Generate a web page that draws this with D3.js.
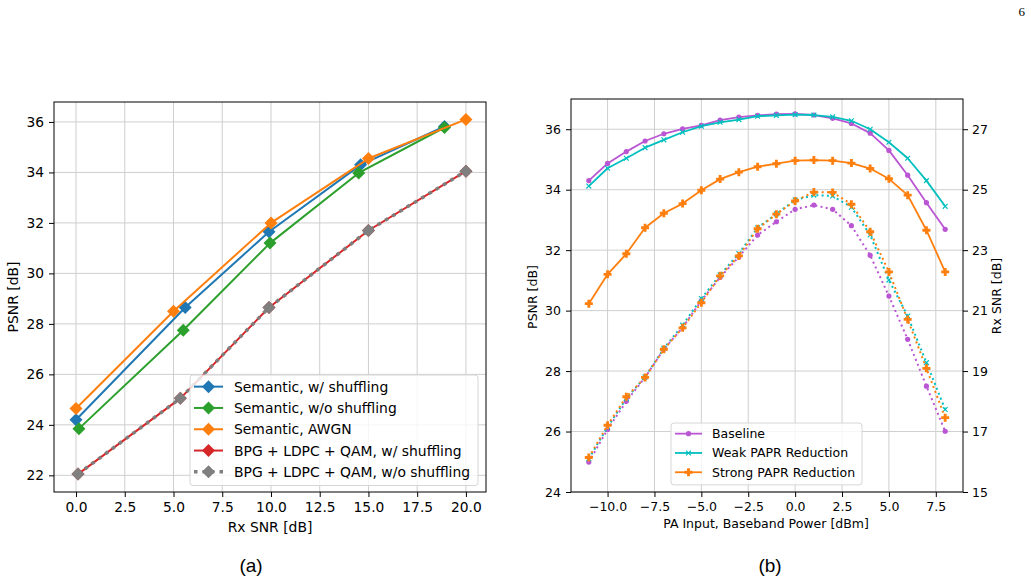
<!DOCTYPE html>
<html>
<head>
<meta charset="utf-8">
<script src="https://cdn.jsdelivr.net/npm/d3@7"></script>
<style>
  body { margin: 0; background: #fff; }
  text { font-family: "DejaVu Sans", sans-serif; fill: #000; }
  .caption { font-family: "Liberation Sans", Arial, sans-serif; }
</style>
</head>
<body>
<div id="container"></div>
<script>

// ---- panel (a) data ----
const snrBlue = [0.0, 5.6, 9.9, 14.6, 18.9];
const psnrBlue = [24.2, 28.65, 31.65, 34.3, 35.82];
const snrGreen = [0.15, 5.5, 9.95, 14.5, 18.9];
const psnrGreen = [23.85, 27.75, 31.2, 33.98, 35.78];
const snrOrange = [0.0, 5.0, 10.0, 15.0, 20.0];
const psnrOrange = [24.65, 28.5, 32.0, 34.55, 36.1];
const snrBpg = [0.1, 5.35, 9.9, 15.0, 20.0];
const psnrBpgShuf = [22.05, 25.05, 28.65, 31.7, 34.05];
const psnrBpgNoShuf = [22.05, 25.05, 28.65, 31.7, 34.05];
const leftXTicks = [0, 2.5, 5, 7.5, 10, 12.5, 15, 17.5, 20];
const leftYTicks = [22, 24, 26, 28, 30, 32, 34, 36];

// ---- panel (b) data ----
const paInput = [-11, -10, -9, -8, -7, -6, -5, -4, -3, -2, -1, 0, 1, 2, 3, 4, 5, 6, 7, 8];
const psnrBaseline = [34.3, 34.87, 35.26, 35.61, 35.85, 36.01, 36.13, 36.3, 36.4, 36.46, 36.5, 36.51, 36.47, 36.36, 36.19, 35.87, 35.3, 34.48, 33.57, 32.69];
const psnrWeak = [34.12, 34.71, 35.04, 35.39, 35.65, 35.9, 36.1, 36.23, 36.32, 36.43, 36.46, 36.48, 36.47, 36.41, 36.28, 36.0, 35.57, 35.04, 34.3, 33.45];
const psnrStrong = [30.23, 31.2, 31.88, 32.74, 33.22, 33.54, 33.98, 34.35, 34.58, 34.76, 34.86, 34.96, 34.98, 34.96, 34.88, 34.7, 34.36, 33.82, 32.66, 31.28];
const rxBaseline = [15.99, 17.07, 18.0, 18.79, 19.72, 20.44, 21.33, 22.1, 22.78, 23.5, 23.94, 24.35, 24.49, 24.35, 23.81, 22.83, 21.48, 20.05, 18.5, 17.01];
const rxWeak = [16.1, 17.15, 18.09, 18.81, 19.75, 20.52, 21.4, 22.18, 22.89, 23.74, 24.2, 24.66, 24.82, 24.79, 24.42, 23.5, 22.01, 20.82, 19.28, 17.73];
const rxStrong = [16.14, 17.21, 18.15, 18.79, 19.72, 20.43, 21.26, 22.15, 22.81, 23.71, 24.19, 24.63, 24.92, 24.91, 24.52, 23.61, 22.28, 20.71, 19.09, 17.46];
const rightXTicks = [-10, -7.5, -5, -2.5, 0, 2.5, 5, 7.5];
const rightYTicks = [24, 26, 28, 30, 32, 34, 36];
const rightY2Ticks = [15, 17, 19, 21, 23, 25, 27];

const svg = d3.select("#container").append("svg")
  .attr("width", 1031).attr("height", 580);
svg.append("rect").attr("width", 1031).attr("height", 580).attr("fill", "#fff");

// page number
svg.append("text").attr("x", 1025).attr("y", 16).attr("text-anchor", "end")
  .style("font-family", "'Liberation Serif', serif").style("font-size", "13px").text("6");

const zip = (xs, ys) => xs.map((x, i) => [x, ys[i]]);

function diamond(r) {
  return `M0,${-r}L${r},0L0,${r}L${-r},0Z`;
}
function plusFilled(r) {
  const t = r * 0.36;
  return `M${-t},${-r}H${t}V${-t}H${r}V${t}H${t}V${r}H${-t}V${t}H${-r}V${-t}H${-t}Z`;
}

function drawMarker(g, shape, color, x, y) {
  if (shape === "D") {
    g.append("path").attr("d", diamond(6.5)).attr("transform", `translate(${x},${y})`).attr("fill", color);
  } else if (shape === "o") {
    g.append("circle").attr("cx", x).attr("cy", y).attr("r", 2.6).attr("fill", color);
  } else if (shape === "x") {
    const r = 2.4;
    g.append("path").attr("d", `M${x - r},${y - r}L${x + r},${y + r}M${x - r},${y + r}L${x + r},${y - r}`)
      .attr("stroke", color).attr("stroke-width", 1.2);
  } else if (shape === "P") {
    g.append("path").attr("d", plusFilled(4)).attr("transform", `translate(${x},${y})`).attr("fill", color);
  }
}

function drawSeries(g, xs, ys, s) {
  const line = d3.line().x(d => s.x(d[0])).y(d => s.y(d[1]));
  g.append("path").datum(zip(xs, ys))
    .attr("d", line).attr("fill", "none")
    .attr("stroke", s.color).attr("stroke-width", s.width)
    .attr("stroke-dasharray", s.dash || null)
    .attr("stroke-linejoin", "round");
  zip(xs, ys).forEach(d => drawMarker(g, s.marker, s.color, s.x(d[0]), s.y(d[1])));
}

function frame(g, x, y, fs, xt, yt, xfmt, yfmt) {
  const [x0, x1] = x.range(), [y1, y0] = y.range();
  // grid
  g.append("g").selectAll("line").data(xt).join("line")
    .attr("x1", d => x(d)).attr("x2", d => x(d)).attr("y1", y0).attr("y2", y1)
    .attr("stroke", "#cfcfcf").attr("stroke-width", 1);
  g.append("g").selectAll("line").data(yt).join("line")
    .attr("x1", x0).attr("x2", x1).attr("y1", d => y(d)).attr("y2", d => y(d))
    .attr("stroke", "#cfcfcf").attr("stroke-width", 1);
  const ax = g.append("g").attr("transform", `translate(0,${y1})`)
    .call(d3.axisBottom(x).tickValues(xt).tickFormat(xfmt).tickSize(5).tickPadding(5).tickSizeOuter(0));
  const ay = g.append("g").attr("transform", `translate(${x0},0)`)
    .call(d3.axisLeft(y).tickValues(yt).tickFormat(yfmt).tickSize(5).tickPadding(5).tickSizeOuter(0));
  [ax, ay].forEach(a => {
    a.select(".domain").remove();
    a.selectAll("text").style("font-size", fs + "px").style("font-family", "'DejaVu Sans', sans-serif");
    a.selectAll("line").attr("stroke", "#000");
  });
}

function box(g, x, y) {
  const [x0, x1] = x.range(), [y1, y0] = y.range();
  g.append("rect").attr("x", x0).attr("y", y0).attr("width", x1 - x0).attr("height", y1 - y0)
    .attr("fill", "none").attr("stroke", "#000").attr("stroke-width", 1);
}

function legend(g, items, lx, ly, w, rowH, fs, handleLen, gap) {
  const h = items.length * rowH + 4;
  g.append("rect").attr("x", lx).attr("y", ly).attr("width", w).attr("height", h)
    .attr("rx", 3).attr("fill", "#fff").attr("fill-opacity", 0.8)
    .attr("stroke", "#d6d6d6").attr("stroke-width", 1);
  items.forEach((it, i) => {
    const cy = ly + rowH / 2 + 1 + i * rowH;
    const hx = lx + 4;
    g.append("line").attr("x1", hx).attr("x2", hx + handleLen).attr("y1", cy).attr("y2", cy)
      .attr("stroke", it.color).attr("stroke-width", it.width).attr("stroke-dasharray", it.dash || null);
    drawMarker(g, it.marker, it.color, hx + handleLen / 2, cy);
    g.append("text").attr("x", hx + handleLen + gap).attr("y", cy).attr("dy", "0.36em")
      .style("font-size", fs + "px").text(it.label);
  });
}

// ================= panel (a) =================
{
  const x = d3.scaleLinear().domain([-1.13, 21.03]).range([54, 486]);
  const y = d3.scaleLinear().domain([21.34, 36.79]).range([492, 102]);
  const g = svg.append("g");
  frame(g, x, y, 13.8, leftXTicks, leftYTicks, d3.format(".1f"), d3.format("d"));

  const series = [
    { xs: snrBlue, ys: psnrBlue, color: "#1f77b4", width: 2, marker: "D", label: "Semantic, w/ shuffling" },
    { xs: snrGreen, ys: psnrGreen, color: "#2ca02c", width: 2, marker: "D", label: "Semantic, w/o shuffling" },
    { xs: snrOrange, ys: psnrOrange, color: "#ff7f0e", width: 2, marker: "D", label: "Semantic, AWGN" },
    { xs: snrBpg, ys: psnrBpgShuf, color: "#d62728", width: 2, marker: "D", label: "BPG + LDPC + QAM, w/ shuffling" },
    { xs: snrBpg, ys: psnrBpgNoShuf, color: "#7f7f7f", width: 3.5, dash: "3.5 5", marker: "D", label: "BPG + LDPC + QAM, w/o shuffling" }
  ];
  series.forEach(s => drawSeries(g, s.xs, s.ys, Object.assign({ x, y }, s)));
  box(g, x, y);
  legend(g, series, 190, 375, 288, 21.3, 13.9, 29, 11);

  g.append("text").attr("x", 270).attr("y", 532).attr("text-anchor", "middle")
    .style("font-size", "13.9px").text("Rx SNR [dB]");
  g.append("text").attr("transform", "translate(18,297) rotate(-90)").attr("text-anchor", "middle")
    .style("font-size", "13.9px").text("PSNR [dB]");
  g.append("text").attr("class", "caption").attr("x", 251).attr("y", 572).attr("text-anchor", "middle")
    .style("font-size", "19px").text("(a)");
}

// ================= panel (b) =================
{
  const x = d3.scaleLinear().domain([-11.95, 8.95]).range([571, 963]);
  const y = d3.scaleLinear().domain([24, 37]).range([492, 99]);
  const y2 = d3.scaleLinear().domain([15, 28]).range([492, 99]);
  const g = svg.append("g");
  frame(g, x, y, 12.5, rightXTicks, rightYTicks, d3.format(".1f"), d3.format("d"));

  const ay2 = g.append("g").attr("transform", "translate(963,0)")
    .call(d3.axisRight(y2).tickValues(rightY2Ticks).tickSize(5).tickPadding(4).tickSizeOuter(0));
  ay2.select(".domain").remove();
  ay2.selectAll("text").style("font-size", "12.5px").style("font-family", "'DejaVu Sans', sans-serif");

  const purple = "#ba55d3", cyan = "#00bfbf", orange = "#ff7f0e";
  const solid = [
    { ys: psnrBaseline, color: purple, marker: "o", label: "Baseline" },
    { ys: psnrWeak, color: cyan, marker: "x", label: "Weak PAPR Reduction" },
    { ys: psnrStrong, color: orange, marker: "P", label: "Strong PAPR Reduction" }
  ];
  const dotted = [
    { ys: rxBaseline, color: purple, marker: "o" },
    { ys: rxWeak, color: cyan, marker: "x" },
    { ys: rxStrong, color: orange, marker: "P" }
  ];
  solid.forEach(s => drawSeries(g, paInput, s.ys, { x, y, color: s.color, width: 1.8, marker: s.marker }));
  dotted.forEach(s => drawSeries(g, paInput, s.ys, { x, y: y2, color: s.color, width: 2, dash: "2 3.3", marker: s.marker }));
  box(g, x, y);
  legend(g, solid.map(s => Object.assign({ width: 1.8 }, s)), 671, 423, 191, 19.3, 12.5, 27, 10);

  g.append("text").attr("x", 766).attr("y", 528).attr("text-anchor", "middle")
    .style("font-size", "12.5px").text("PA Input, Baseband Power [dBm]");
  g.append("text").attr("transform", "translate(537,297) rotate(-90)").attr("text-anchor", "middle")
    .style("font-size", "12.5px").text("PSNR [dB]");
  g.append("text").attr("transform", "translate(1001,296) rotate(-90)").attr("text-anchor", "middle")
    .style("font-size", "12.5px").text("Rx SNR [dB]");
  g.append("text").attr("class", "caption").attr("x", 770).attr("y", 572).attr("text-anchor", "middle")
    .style("font-size", "19px").text("(b)");
}
</script>
</body>
</html>
